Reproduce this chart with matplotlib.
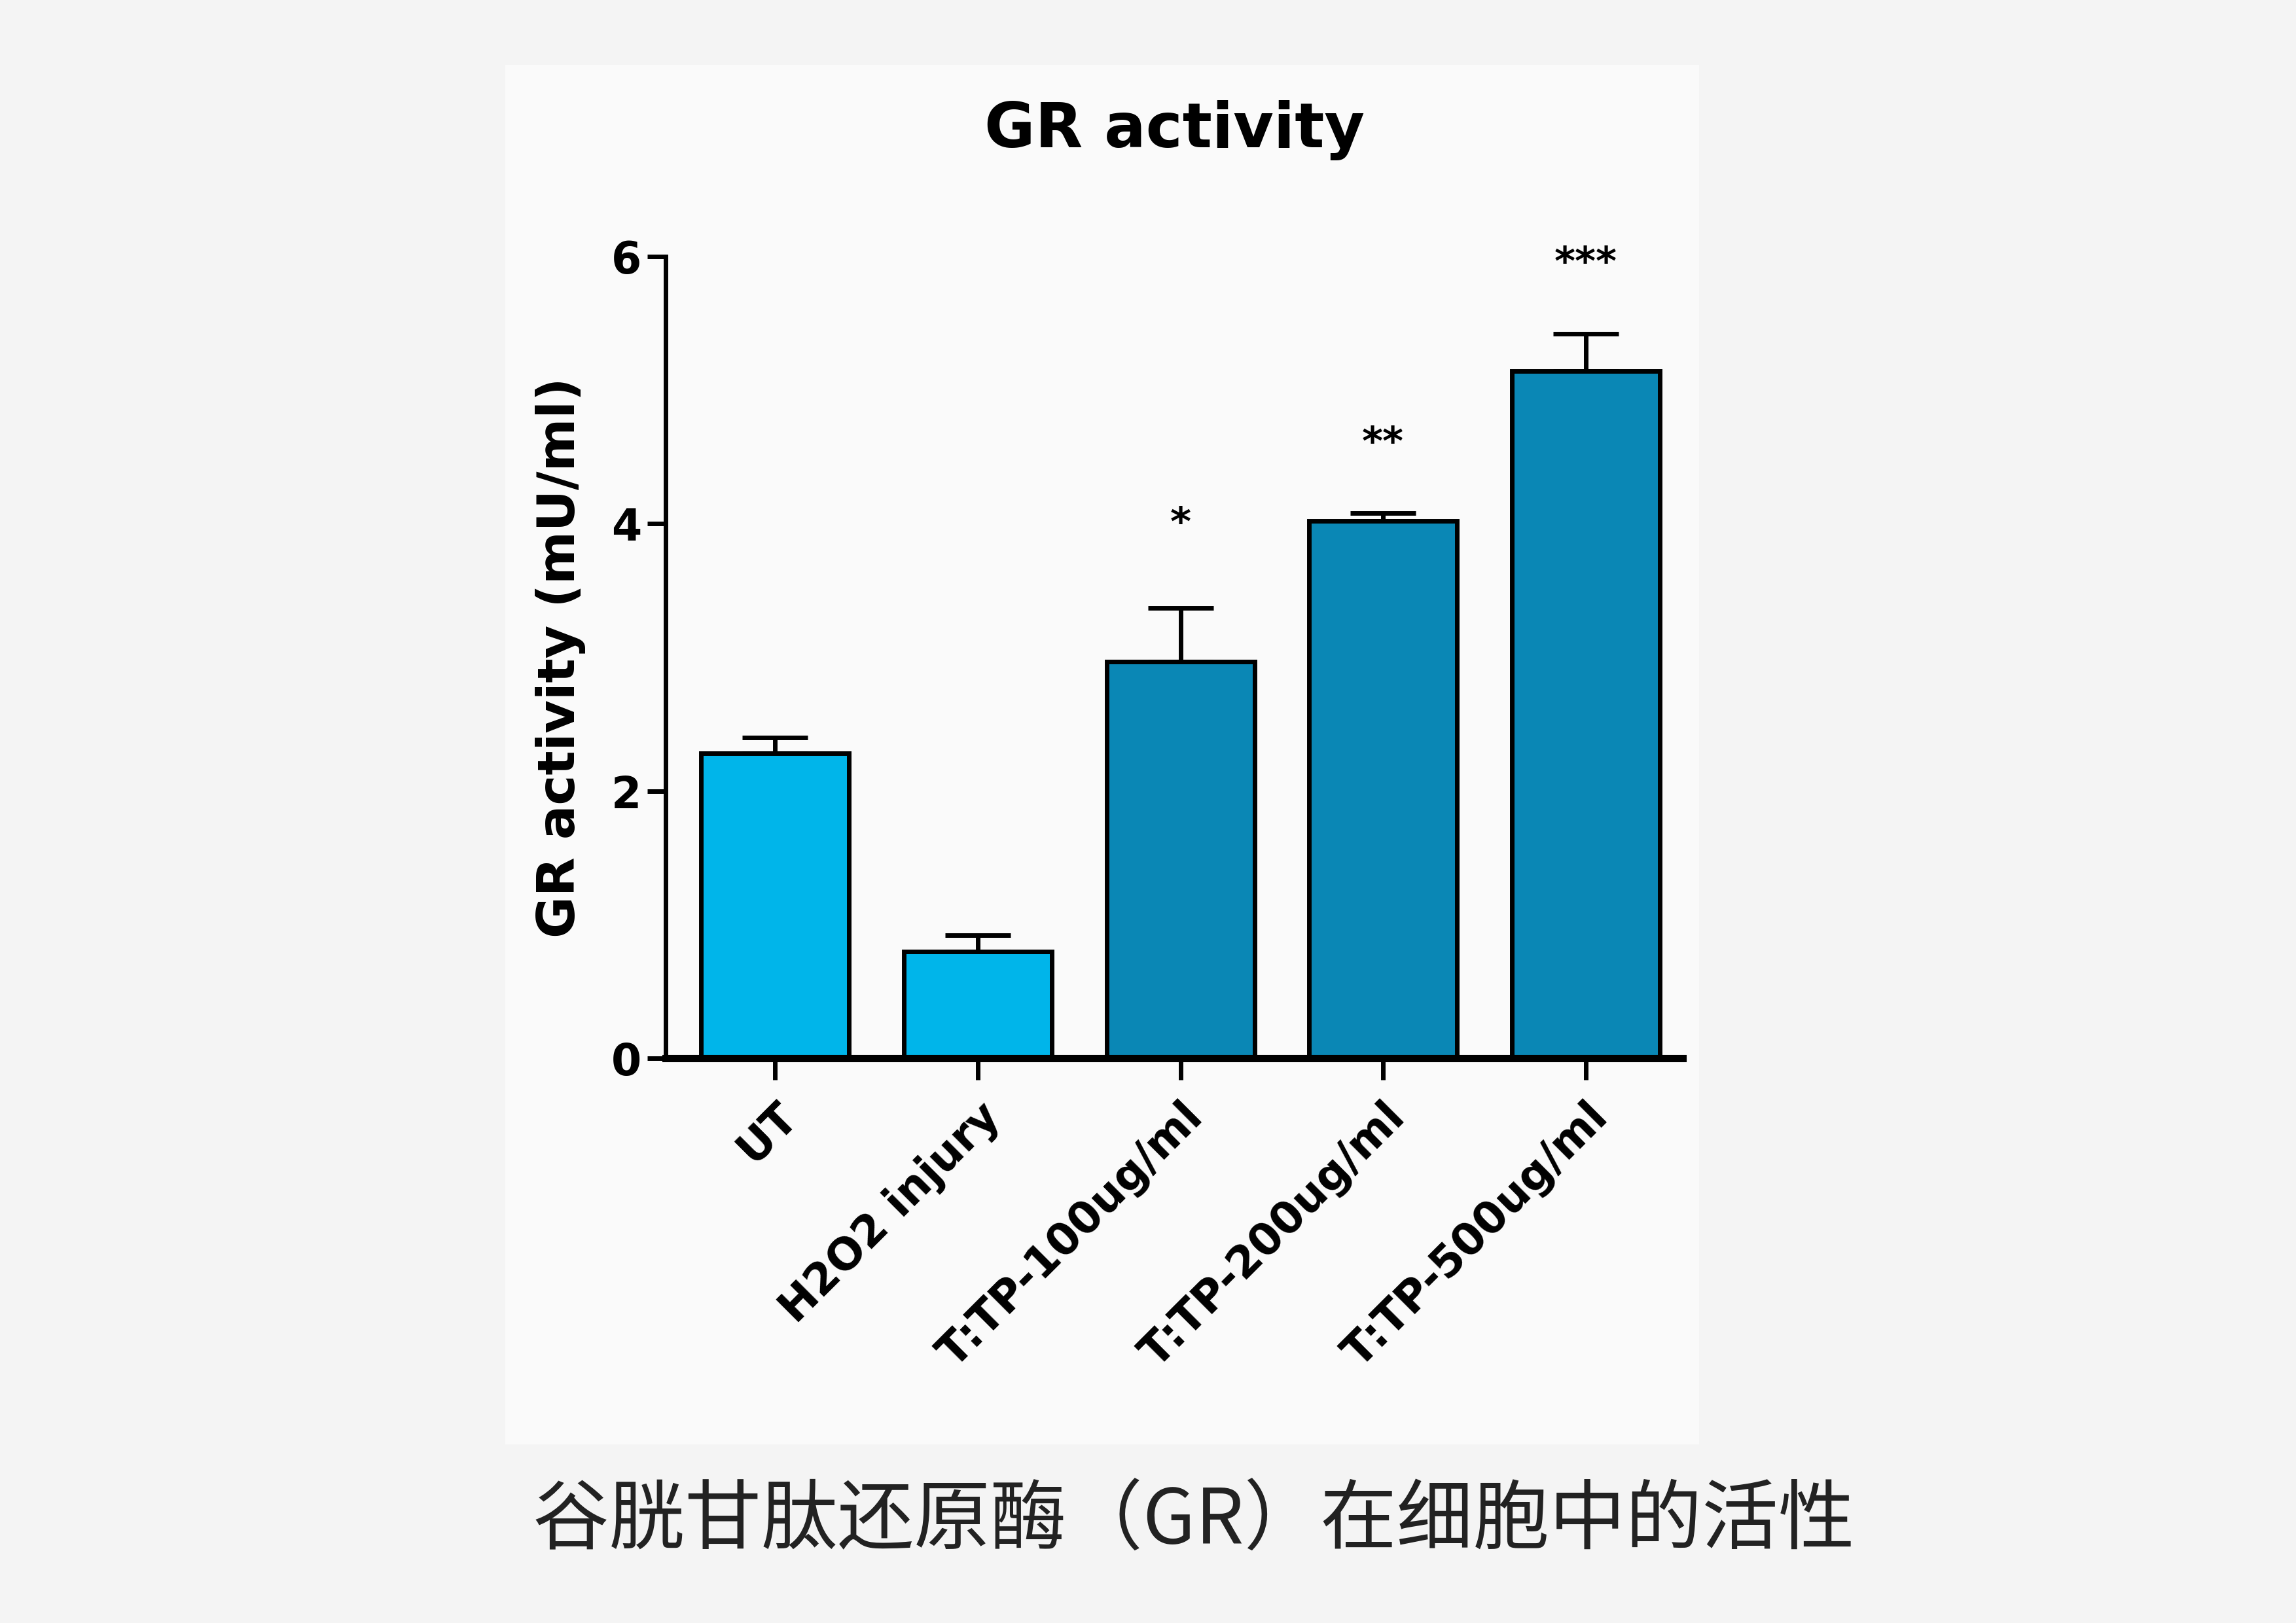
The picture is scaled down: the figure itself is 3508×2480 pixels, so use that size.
import matplotlib.pyplot as plt
from matplotlib.patches import Rectangle

groups = ["UT", "H2O2 injury", "T:TP-100ug/ml", "T:TP-200ug/ml", "T:TP-500ug/ml"]
means = [2.28, 0.80, 2.97, 4.02, 5.14]
errors = [0.12, 0.12, 0.40, 0.06, 0.28]
stars = ["", "", "*", "**", "***"]
star_y = [0, 0, 3.85, 4.45, 5.8]
colors = ["#00b5ea", "#00b5ea", "#0a87b5", "#0a87b5", "#0a87b5"]

fig = plt.figure(figsize=(17.54, 12.4), dpi=200, facecolor="#f4f4f4")

# lighter panel behind the chart
bg = fig.add_axes([0, 0, 1, 1], zorder=-1)
bg.set_axis_off()
bg.set_xlim(0, 1)
bg.set_ylim(0, 1)
bg.add_patch(Rectangle((0.22, 0.11), 0.52, 0.85, facecolor="#fafafa", edgecolor="none"))

ax = fig.add_axes([0.290, 0.348, 0.443, 0.494])
ax.set_facecolor("none")

x = range(len(groups))
ax.bar(x, means, width=0.73, color=colors, edgecolor="black", linewidth=2.5, zorder=2)
ax.errorbar(x, means, yerr=[[0] * 5, errors], fmt="none", ecolor="black",
            elinewidth=2.5, capsize=18, capthick=2.5, zorder=1)
for i, s in enumerate(stars):
    if s:
        ax.text(i, star_y[i], s, ha="center", va="bottom", fontsize=22, fontweight="bold")

ax.set_xlim(-0.54, 4.48)
ax.set_ylim(0, 6)
ax.set_yticks([0, 2, 4, 6])
ax.set_xticks(list(x))
ax.set_xticklabels(groups, rotation=45, ha="right", rotation_mode="anchor",
                   fontsize=24, fontweight="bold")
for lab in ax.get_yticklabels():
    lab.set_fontsize(24)
    lab.set_fontweight("bold")
ax.spines["top"].set_visible(False)
ax.spines["right"].set_visible(False)
ax.spines["left"].set_linewidth(2.5)
ax.spines["bottom"].set_linewidth(4)
ax.tick_params(axis="y", width=2.5, length=10)
ax.tick_params(axis="x", width=2.5, length=12, pad=8)
ax.set_ylabel("GR activity (mU/ml)", fontsize=28, fontweight="bold", labelpad=14)
ax.set_title("GR activity", fontsize=34, fontweight="bold", pad=60)

fig.text(0.52, 0.062, "谷胱甘肽还原酶（GR）在细胞中的活性", ha="center", va="center",
         fontsize=42, fontfamily="Noto Sans CJK SC", color="#222222")

fig.savefig("out.png", dpi=200, facecolor=fig.get_facecolor())
